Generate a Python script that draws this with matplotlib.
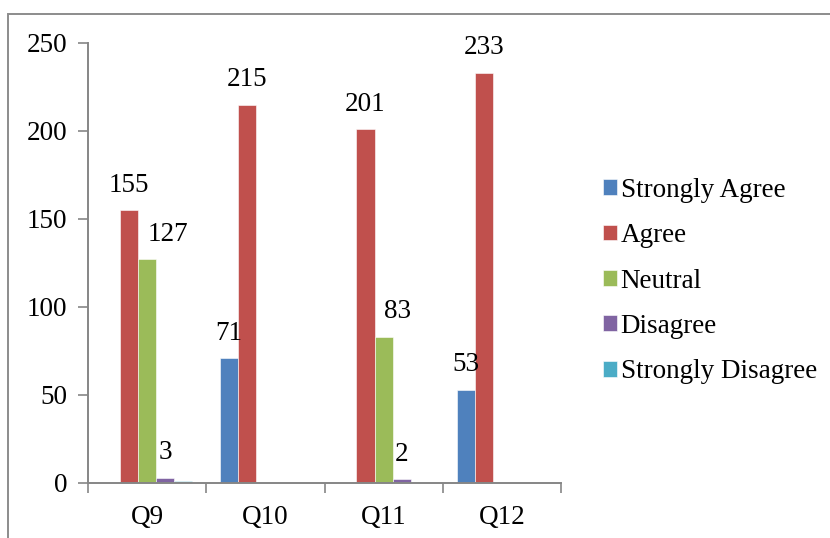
import matplotlib
matplotlib.use("Agg")
import matplotlib.pyplot as plt
from matplotlib.patches import Rectangle
import numpy as np

categories = ["Q9", "Q10", "Q11", "Q12"]
series_names = ["Strongly Agree", "Agree", "Neutral", "Disagree", "Strongly Disagree"]
strongly_agree = [None, 71, None, 53]
agree = [155, 215, 201, 233]
neutral = [127, None, 83, None]
disagree = [3, None, 2, None]
strongly_disagree = [1, None, None, None]
labelled = [True, True, True, True, False]
y_ticks = [0, 50, 100, 150, 200, 250]

# horizontal nudge (points) for the Neutral data labels so they clear the Agree labels
neutral_label_dx = [15, None, 10, None]

colors = ["#4F81BD", "#C0504D", "#9BBB59", "#8064A2", "#4BACC6"]
axis_gray = "#868686"
fs = 19.5

plt.rcParams["font.family"] = ["Liberation Serif", "DejaVu Serif"]

fig = plt.figure(figsize=(8.30, 5.38), dpi=100)
fig.patch.set_facecolor("white")

# outer chart frame (only left and top edges fall inside the canvas)
frame = Rectangle((8 / 830, -0.05), 1.2, 1 - 13.5 / 538 + 0.05,
                  transform=fig.transFigure, fill=False,
                  edgecolor="#8c8c8c", linewidth=1.4, zorder=0)
fig.add_artist(frame)

ax = fig.add_axes([88 / 830, 1 - 483 / 538, (561 - 88) / 830, (483 - 43) / 538])

x = np.arange(len(categories))
n = len(series_names)
bar_w = 0.153
all_series = [strongly_agree, agree, neutral, disagree, strongly_disagree]

for i, (name, vals, col, lab) in enumerate(zip(series_names, all_series, colors, labelled)):
    xs, hs, idx = [], [], []
    for j, (xi, v) in enumerate(zip(x, vals)):
        if v is not None:
            xs.append(xi + (i - (n - 1) / 2) * bar_w)
            hs.append(v)
            idx.append(j)
    bars = ax.bar(xs, hs, width=bar_w, color=col, label=name,
                  edgecolor="white", linewidth=0.4, zorder=2)
    if lab:
        for b, h, j in zip(bars, hs, idx):
            dx = neutral_label_dx[j] if name == "Neutral" else 0
            ax.annotate(f"{h}", (b.get_x() + b.get_width() / 2, h),
                        xytext=(dx, 9), textcoords="offset points",
                        ha="center", va="bottom", fontsize=fs, color="black")

ax.set_xlim(-0.5, len(categories) - 0.5)
ax.set_ylim(0, 250)
ax.set_yticks(y_ticks)
ax.set_xticks(x)
ax.set_xticklabels(categories)
ax.set_xticks(np.arange(len(categories) + 1) - 0.5, minor=True)

for s in ["top", "right"]:
    ax.spines[s].set_visible(False)
for s in ["left", "bottom"]:
    ax.spines[s].set_color(axis_gray)
    ax.spines[s].set_linewidth(1.4)

ax.tick_params(axis="y", direction="out", length=7, width=1.2, color=axis_gray,
               labelsize=fs, pad=8)
ax.tick_params(axis="x", which="major", length=0, labelsize=fs, pad=16)
ax.tick_params(axis="x", which="minor", direction="out", length=7, width=1.2,
               color=axis_gray)

handles, labels = ax.get_legend_handles_labels()
leg = fig.legend(handles, labels, loc="center left",
                 bbox_to_anchor=(589 / 830, 1 - 281 / 538),
                 frameon=False, fontsize=fs, handlelength=0.52, handleheight=0.52,
                 handletextpad=0.15, labelspacing=0.755, borderpad=0)

fig.savefig("out.png", dpi=100, facecolor="white")
